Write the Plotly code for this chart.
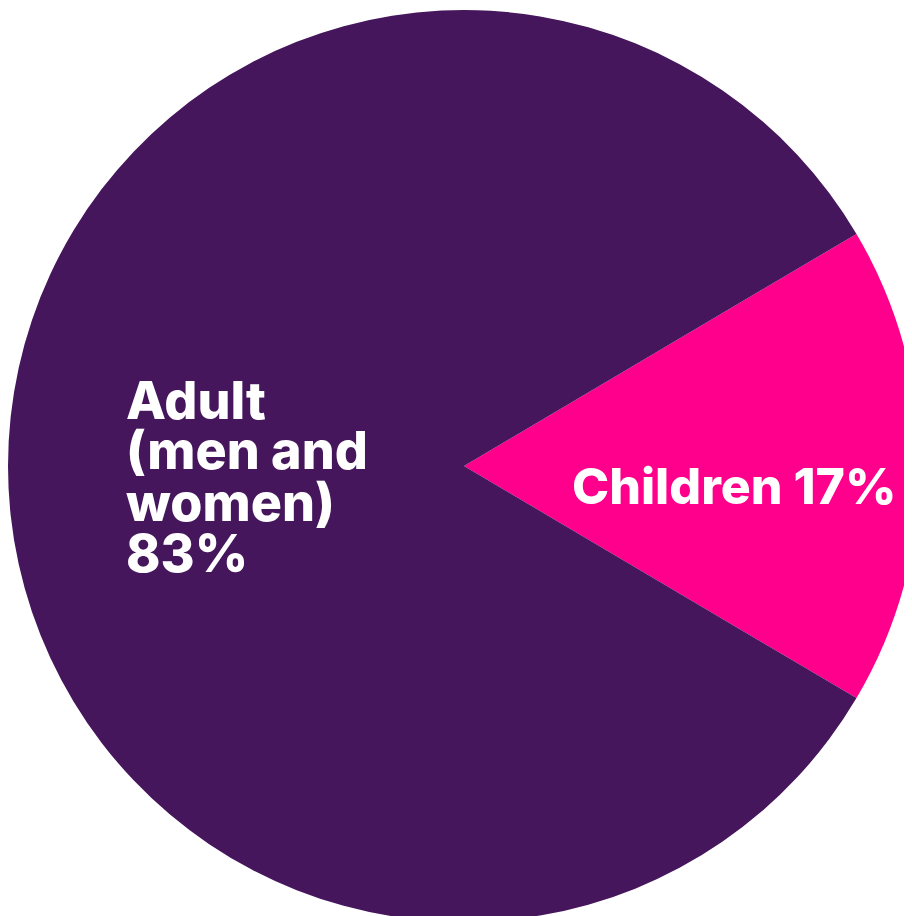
import plotly.graph_objects as go

labels = ["Children", "Adult"]
values = [17, 83]
children_lines = ["Children 17%"]
adult_lines = ["Adult", "(men and", "women)", "83%"]
colors = ["#FF008C", "#45165C"]

fig = go.Figure(go.Pie(
    labels=labels,
    values=values,
    sort=False,
    direction="clockwise",
    rotation=90 - 360 * values[0] / 100 / 2,
    marker=dict(colors=colors, line=dict(width=0)),
    textinfo="none",
    hoverinfo="skip",
    showlegend=False,
    domain=dict(x=[0.0, 1.0], y=[0.0, 1.0]),
))

font = dict(family="Inter, 'Open Sans', sans-serif", size=52, color="white", weight=800)
font_c = dict(family="Inter, 'Open Sans', sans-serif", size=50, color="white", weight=800)
fig.add_annotation(text=children_lines[0], x=562 / 912, y=1 - 478 / 916,
                   xref="paper", yref="paper", xanchor="left", yanchor="middle",
                   showarrow=False, font=font_c, align="left")
for i, line in enumerate(adult_lines):
    fig.add_annotation(text=line, x=116 / 912, y=1 - (392 + 51 * i) / 916,
                       xref="paper", yref="paper", xanchor="left", yanchor="middle",
                       showarrow=False, font=font, align="left")

fig.update_layout(
    width=912, height=916,
    margin=dict(l=0, r=0, t=0, b=0),
    paper_bgcolor="white", plot_bgcolor="white",
)
fig.write_html("out.html")
